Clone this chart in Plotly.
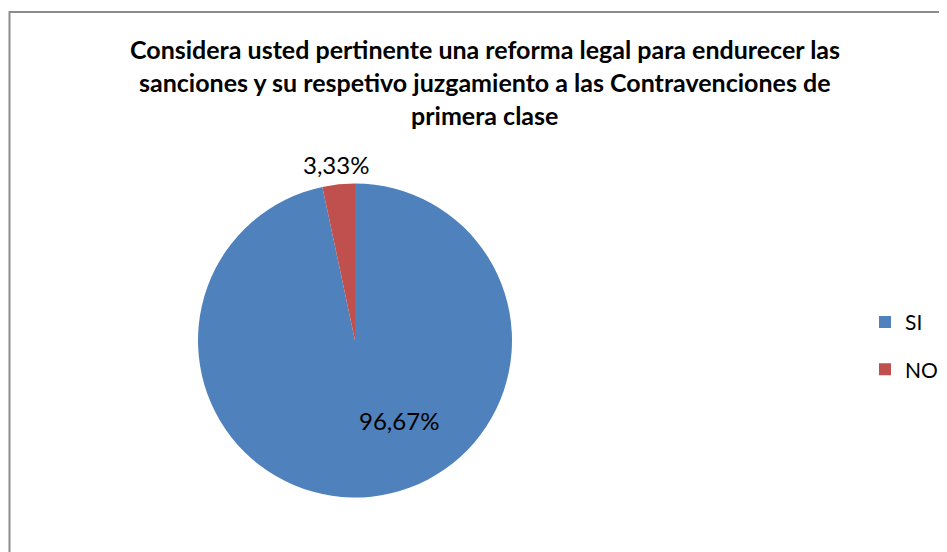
import math
import plotly.graph_objects as go

# survey answers (30 respondents)
labels = ["SI", "NO"]
values = [29, 1]
colors = ["#4F81BD", "#C0504D"]

title_lines = [
    "Considera usted pertinente una reforma legal para endurecer las",
    "sanciones y su respetivo juzgamiento a las Contravenciones de",
    "primera clase",
]

# the page body keeps an 8px margin, so the figure is a bit smaller
W, H = 939, 544
FONT = "Lato"
# pie box in figure pixels
CX, CY, R = 347, 332.5, 157

fig = go.Figure()
fig.add_trace(
    go.Pie(
        labels=['<span style="font-size:21px;baseline-shift:5px">%s</span>' % l for l in labels],
        values=values,
        marker=dict(colors=colors),
        sort=False,
        direction="clockwise",
        rotation=0,
        textinfo="none",
        domain=dict(x=[(CX - R) / W, (CX + R) / W], y=[1 - (CY + R) / H, 1 - (CY - R) / H]),
        hoverinfo="percent",
    )
)

# data labels placed like Excel: small slice outside on its mid angle,
# big slice inside, lower right of the centre
total = sum(values)
pct = [("%.2f%%" % (v / total * 100)).replace(".", ",") for v in values]
mid_no = (values[0] + values[1] / 2) / total * 2 * math.pi
label_xy = [
    (CX + 44, CY + 80),
    (CX + (R + 20) * math.sin(mid_no), CY - (R + 20) * math.cos(mid_no)),
]
for txt, (lx, ly) in zip(pct, label_xy):
    fig.add_annotation(
        text=txt,
        xref="paper", yref="paper",
        x=lx / W, y=1 - ly / H,
        xanchor="center", yanchor="middle",
        showarrow=False,
        font=dict(family=FONT, size=24, color="black"),
    )

# title, one line per annotation to get Excel-like spacing
for i, line in enumerate(title_lines):
    fig.add_annotation(
        text="<b>%s</b>" % line,
        xref="paper", yref="paper",
        x=476.5 / W, y=1 - (41 + 33 * i) / H,
        xanchor="center", yanchor="middle",
        showarrow=False,
        font=dict(family=FONT, size=25, color="black"),
    )

# chart border
fig.add_shape(
    type="rect", xref="paper", yref="paper",
    x0=1.5 / W, x1=1.05, y0=-0.05, y1=1 - 4 / H,
    line=dict(color="#8C8C8C", width=2),
)

fig.update_layout(
    width=W, height=H,
    margin=dict(l=0, r=0, t=0, b=0),
    paper_bgcolor="white",
    showlegend=True,
    legend=dict(
        x=857 / W, y=1 - 338 / H,
        xanchor="left", yanchor="middle",
        font=dict(family=FONT, size=34, color="black"),
        bgcolor="rgba(0,0,0,0)",
    ),
)

fig.write_html("out.html")
